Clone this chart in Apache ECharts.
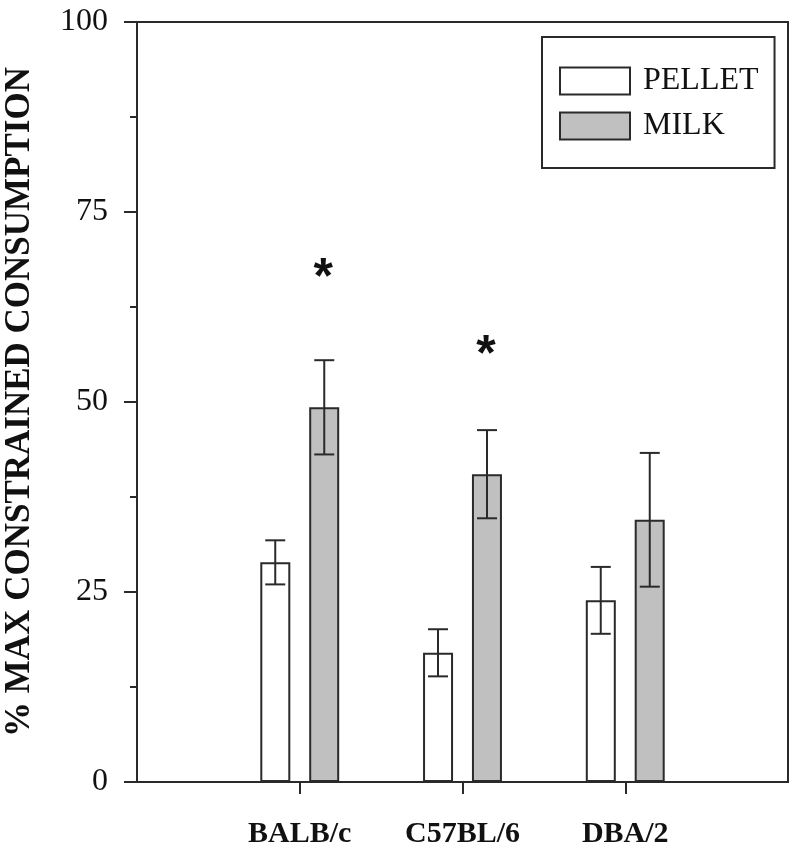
<!DOCTYPE html>
<html>
<head>
<meta charset="utf-8">
<script src="https://cdn.jsdelivr.net/npm/echarts@6/dist/echarts.min.js"></script>
<style>
html,body{margin:0;padding:0;background:#fff;}
#chart{width:800px;height:856px;}
</style>
</head>
<body>
<div id="chart"></div>
<script>
// Data
var categories = ['', 'BALB/c', 'C57BL/6', 'DBA/2', ''];
var seriesNames = ['PELLET', 'MILK'];
var pelletMean = [null, 28.9, 17.0, 23.9, null];
var pelletErr = [null, 2.9, 3.1, 4.4, null];
var milkMean = [null, 49.3, 40.5, 34.5, null];
var milkErr = [null, 6.2, 5.8, 8.8, null];
var sigMarks = [null, 67.3, 57.2, null, null]; // asterisk positions over MILK bars
var yTicks = [0, 25, 50, 75, 100];

var chart = echarts.init(document.getElementById('chart'), null, {renderer: 'canvas'});

var BAR_W = 30, OFFSET = 24.5;
var lineColor = '#2a2a2a';
var serif = '"Liberation Serif", "Times New Roman", serif';

function errSeries(means, errs, dx) {
  var data = [];
  for (var i = 0; i < means.length; i++) {
    if (means[i] != null) data.push([i, means[i], errs[i]]);
  }
  return {
    type: 'custom',
    silent: true,
    z: 5,
    data: data,
    renderItem: function (params, api) {
      var i = api.value(0), m = api.value(1), e = api.value(2);
      var top = api.coord([i, m + e]);
      var bot = api.coord([i, m - e]);
      var x = top[0] + dx;
      var cap = 10;
      var st = {stroke: lineColor, lineWidth: 2};
      return {
        type: 'group',
        children: [
          {type: 'line', shape: {x1: x, y1: top[1], x2: x, y2: bot[1]}, style: st},
          {type: 'line', shape: {x1: x - cap, y1: top[1], x2: x + cap, y2: top[1]}, style: st},
          {type: 'line', shape: {x1: x - cap, y1: bot[1], x2: x + cap, y2: bot[1]}, style: st}
        ]
      };
    }
  };
}

var sigData = [];
for (var k = 0; k < sigMarks.length; k++) if (sigMarks[k] != null) sigData.push([k, sigMarks[k]]);

var option = {
  animation: false,
  backgroundColor: '#fff',
  grid: {
    left: 137, right: 12, top: 22, bottom: 74,
    outerBoundsMode: 'none', containLabel: false,
    show: true, borderColor: lineColor, borderWidth: 2, backgroundColor: 'transparent'
  },
  legend: {
    data: seriesNames,
    orient: 'vertical',
    left: 542, top: 37,
    padding: [28, 16, 26, 17],
    itemWidth: 70, itemHeight: 27, itemGap: 13,
    borderColor: lineColor, borderWidth: 2,
    icon: 'rect',
    textStyle: {fontFamily: serif, fontSize: 32, lineHeight: 27, color: '#111', padding: [0, 0, 0, 8]}
  },
  xAxis: {
    type: 'category',
    data: categories,
    boundaryGap: false,
    axisLine: {lineStyle: {color: lineColor, width: 2}},
    axisTick: {
      show: true, length: 12, inside: false,
      interval: function (idx) { return idx >= 1 && idx <= 3; },
      lineStyle: {color: lineColor, width: 2}
    },
    axisLabel: {
      interval: 0,
      margin: 37,
      fontFamily: serif, fontWeight: 'bold', fontSize: 30, color: '#111'
    },
    splitLine: {show: false}
  },
  yAxis: {
    type: 'value',
    min: 0, max: 100, interval: 25,
    name: '% MAX CONSTRAINED CONSUMPTION',
    nameLocation: 'middle',
    nameRotate: 90,
    nameGap: 100,
    nameTextStyle: {fontFamily: serif, fontWeight: 'bold', fontSize: 35, color: '#111'},
    axisLine: {show: true, lineStyle: {color: lineColor, width: 2}},
    axisTick: {show: true, length: 13, lineStyle: {color: lineColor, width: 2}},
    minorTick: {show: true, splitNumber: 2, length: 7, lineStyle: {color: lineColor, width: 2}},
    axisLabel: {
      margin: 29, fontFamily: serif, fontSize: 32, color: '#111',
      formatter: function (v) { return yTicks.indexOf(v) >= 0 ? String(v) : ''; }
    },
    splitLine: {show: false}
  },
  series: [
    {
      name: seriesNames[0], type: 'bar', data: pelletMean,
      barWidth: BAR_W, barGap: '63%',
      itemStyle: {color: '#ffffff', borderColor: lineColor, borderWidth: 2}
    },
    {
      name: seriesNames[1], type: 'bar', data: milkMean,
      barWidth: BAR_W, barGap: '63%',
      itemStyle: {color: '#c0c0c0', borderColor: lineColor, borderWidth: 2}
    },
    errSeries(pelletMean, pelletErr, -OFFSET),
    errSeries(milkMean, milkErr, OFFSET),
    {
      type: 'custom', silent: true, z: 6, data: sigData,
      renderItem: function (params, api) {
        var p = api.coord([api.value(0), api.value(1)]);
        return {
          type: 'text',
          style: {
            x: p[0] + OFFSET - 1, y: p[1] + 9, text: '*',
            fontFamily: '"Liberation Sans", Arial, sans-serif', fontWeight: 'bold', fontSize: 50,
            fill: '#111', align: 'center', verticalAlign: 'middle'
          }
        };
      }
    }
  ]
};
chart.setOption(option);
</script>
</body>
</html>
